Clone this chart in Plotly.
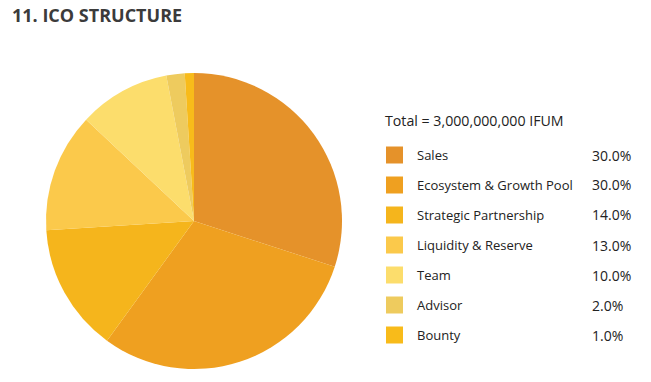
import plotly.graph_objects as go

categories = ["Sales", "Ecosystem & Growth Pool", "Strategic Partnership",
              "Liquidity & Reserve", "Team", "Advisor", "Bounty"]
values = [30.0, 30.0, 14.0, 13.0, 10.0, 2.0, 1.0]
colors = ["#E5922A", "#EFA020", "#F5B51C", "#FBC94B", "#FCDD6C", "#EECB5E", "#F8BB1A"]
title_text = "11. ICO STRUCTURE"
total_text = "Total = 3,000,000,000 IFUM"

W, H = 651, 382

fig = go.Figure(go.Pie(
    labels=categories, values=values, sort=False, direction="clockwise",
    rotation=0, marker=dict(colors=colors, line=dict(width=0)),
    textinfo="none", hoverinfo="label+percent", showlegend=False,
    domain=dict(x=[46 / W, 342 / W], y=[13 / H, 309 / H]),
))

FONT = "Open Sans"
ann = [
    dict(text="<b>" + title_text + "</b>", x=10 / W, y=1 - 15 / H, xanchor="left", yanchor="middle",
         font=dict(family=FONT, size=18, color="#3B3B3B")),
    dict(text=total_text, x=383 / W, y=1 - 120 / H, xanchor="left", yanchor="middle",
         font=dict(family=FONT, size=14.2, color="#222222")),
]
shapes = []
for i, (c, v, col) in enumerate(zip(categories, values, colors)):
    yc = 155 + 30 * i
    shapes.append(dict(type="rect", xref="paper", yref="paper",
                       x0=386 / W, x1=403 / W, y0=1 - (yc + 8.5) / H, y1=1 - (yc - 8.5) / H,
                       fillcolor=col, line=dict(width=0)))
    ann.append(dict(text=c, x=415 / W, y=1 - yc / H, xanchor="left", yanchor="middle",
                    font=dict(family=FONT, size=13, color="#222222")))
    ann.append(dict(text=f"{v:.1f}%", x=590 / W, y=1 - yc / H, xanchor="left", yanchor="middle",
                    font=dict(family=FONT, size=14, color="#222222")))
for a in ann:
    a.update(xref="paper", yref="paper", showarrow=False)

fig.update_layout(width=W, height=H, margin=dict(l=0, r=0, t=0, b=0),
                  paper_bgcolor="white", plot_bgcolor="white",
                  annotations=ann, shapes=shapes)
fig.write_html("out.html", config={"displayModeBar": False},
               post_script="document.body.style.margin='0';")
